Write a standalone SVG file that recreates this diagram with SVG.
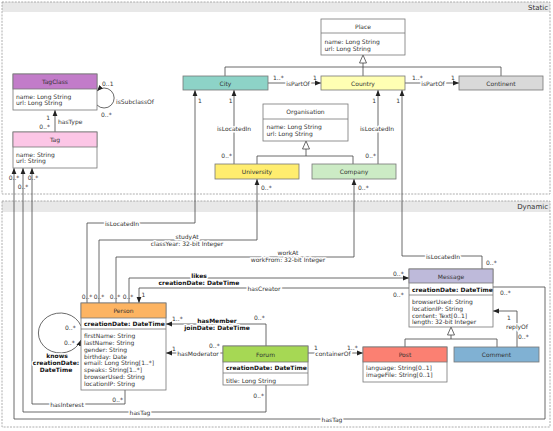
<svg xmlns="http://www.w3.org/2000/svg" width="553" height="431" viewBox="0 0 553 431">
<style>
.t{font-family:"DejaVu Sans","Liberation Sans",sans-serif;font-size:6px;fill:#333;dominant-baseline:central}
.c{text-anchor:middle}
.e{text-anchor:end}
.b{font-weight:bold;fill:#111}
.h{paint-order:stroke;stroke:#fff;stroke-width:3px;stroke-linejoin:round}
.box{fill:#fff;stroke:#777;stroke-width:0.8}
.sep{stroke:#777;stroke-width:0.8}
.ln{fill:none;stroke:#444;stroke-width:0.8}
.a{marker-end:url(#arr)}
.gen{fill:#fff;stroke:#444;stroke-width:0.8}
.reg{fill:none;stroke:#999;stroke-width:0.8;stroke-dasharray:2 1.2}
.band{fill:#e8e8e8}
.rt{font-family:"DejaVu Sans","Liberation Sans",sans-serif;font-size:7px;fill:#333;text-anchor:end;dominant-baseline:central}
</style>
<defs>
<marker id="arr" viewBox="0 0 6 6" refX="6" refY="3" markerWidth="6" markerHeight="6" markerUnits="userSpaceOnUse" orient="auto">
<path d="M0,0.6 L6,3 L0,5.4 z" fill="#222"/>
</marker>
</defs>

<g id="regions">
<rect class="band" x="2" y="2" width="548" height="10"/>
<rect class="reg" x="2" y="2" width="548" height="192"/>
<text class="rt" x="548" y="7.5">Static</text>
<rect class="band" x="2" y="201" width="548" height="11"/>
<rect class="reg" x="2" y="201" width="548" height="226"/>
<text class="rt" x="548" y="206.5">Dynamic</text>
</g>

<g id="connectors">
<!-- generalizations -->
<path class="ln" d="M225,76 V67 H501 V76 M363,67 V76 M363,67 V63"/>
<polygon class="gen" points="363,55 359.5,63 366.5,63"/>
<path class="ln" d="M257,164 V156 H353 V164 M306,156 V149"/>
<polygon class="gen" points="306,141 302.5,149 309.5,149"/>
<path class="ln" d="M405,347 V339 H497 V347 M451,339 V335"/>
<polygon class="gen" points="451,327 447.5,335 454.5,335"/>
<!-- isPartOf -->
<path class="ln a" d="M268,83 H321"/>
<text class="t c h" x="298" y="83">isPartOf</text>
<text class="t" x="273" y="77.5">1..*</text>
<text class="t" x="313" y="77.5">1</text>
<path class="ln a" d="M405,83 H459"/>
<text class="t c h" x="433" y="83">isPartOf</text>
<text class="t" x="412" y="77.5">1..*</text>
<text class="t" x="451" y="77.5">1</text>
<!-- isLocatedIn static -->
<path class="ln a" d="M234,164 V90"/>
<text class="t c h" x="234" y="128">isLocatedIn</text>
<text class="t e" x="232.5" y="100">1</text>
<text class="t e" x="232" y="155">0..*</text>
<path class="ln a" d="M378,164 V90"/>
<text class="t c h" x="377" y="128">isLocatedIn</text>
<text class="t e" x="376" y="100">1</text>
<text class="t e" x="376" y="155">0..*</text>
<!-- hasType -->
<path class="ln a" d="M55,132 V110"/>
<text class="t" x="58" y="121">hasType</text>
<text class="t e" x="50" y="117">1</text>
<text class="t e" x="50" y="126">0..*</text>
<!-- isSubclassOf -->
<path class="ln a" d="M97,105 A10,10 0 1 0 97,91"/>
<text class="t" x="102" y="83">0..1</text>
<text class="t" x="116" y="101">isSubclassOf</text>
<text class="t" x="101" y="114">0..*</text>
<!-- isLocatedIn Person->City -->
<path class="ln a" d="M87,303 V223 H195 V90"/>
<text class="t c h" x="122" y="223">isLocatedIn</text>
<text class="t" x="198" y="100">1</text>
<!-- isLocatedIn Message->Country -->
<path class="ln a" d="M482,269 V256 H402 V90"/>
<text class="t c h" x="443" y="256">isLocatedIn</text>
<text class="t e" x="400" y="100">1</text>
<text class="t" x="486" y="262">0..*</text>
<!-- studyAt -->
<path class="ln a" d="M99,303 V240 H257 V179"/>
<text class="t c h" x="187" y="236.5">studyAt</text>
<text class="t c h" x="187" y="243">classYear: 32-bit Integer</text>
<text class="t" x="261" y="187">0..*</text>
<!-- workAt -->
<path class="ln a" d="M116,303 V257 H354 V179"/>
<text class="t c h" x="288" y="252.5">workAt</text>
<text class="t c h" x="288" y="259">workFrom: 32-bit Integer</text>
<text class="t" x="358" y="187">0..*</text>
<!-- likes -->
<path class="ln a" d="M129,303 V278 H409"/>
<text class="t c b h" x="199" y="275">likes</text>
<text class="t c b h" x="199" y="282">creationDate: DateTime</text>
<text class="t" x="393" y="273">0..*</text>
<!-- hasCreator -->
<path class="ln a" d="M409,288 H139 V303"/>
<text class="t c h" x="264" y="288">hasCreator</text>
<text class="t" x="141.5" y="294">1</text>
<text class="t" x="393" y="294">0..*</text>
<!-- Person top multiplicities -->
<text class="t c" x="87" y="296">0..*</text>
<text class="t c" x="99" y="296">0..*</text>
<text class="t c" x="115" y="296">0..*</text>
<text class="t c" x="128" y="296">0..*</text>
<!-- Tag bottom lines -->
<path class="ln a" d="M125,390 V404 H32 V168"/>
<text class="t c h" x="67" y="404">hasInterest</text>
<text class="t e" x="123" y="399">0..*</text>
<path class="ln a" d="M266,385 V412 H23 V168"/>
<text class="t c h" x="140" y="412">hasTag</text>
<text class="t e" x="264" y="395">0..*</text>
<path class="ln a" d="M493,287 H545 V419 H14 V168"/>
<text class="t c h" x="332" y="419">hasTag</text>
<text class="t" x="500" y="292">0..*</text>
<text class="t c" x="14" y="177">0..*</text>
<text class="t c" x="23" y="186">0..*</text>
<text class="t c" x="33" y="177">0..*</text>
<!-- knows -->
<path class="ln a" d="M81,326 A22,20 0 1 0 81,340"/>
<text class="t" x="65" y="327">0..*</text>
<text class="t" x="64" y="342">0..*</text>
<text class="t c b h" x="57" y="355">knows</text>
<text class="t c b h" x="56" y="362">creationDate:</text>
<text class="t c b h" x="56" y="369">DateTime</text>
<!-- hasMember -->
<path class="ln a" d="M266,346 V324 H166"/>
<text class="t c b h" x="217" y="320.5">hasMember</text>
<text class="t c b h" x="217" y="327">joinDate: DateTime</text>
<text class="t" x="172" y="318">1..*</text>
<text class="t" x="254" y="317">0..*</text>
<!-- hasModerator -->
<path class="ln a" d="M223,353 H166"/>
<text class="t c h" x="198" y="353.5">hasModerator</text>
<text class="t" x="172" y="348.5">1</text>
<text class="t" x="209" y="345.5">0..*</text>
<!-- containerOf -->
<path class="ln a" d="M308,353 H363"/>
<text class="t c h" x="333" y="353">containerOf</text>
<text class="t" x="314" y="347">1</text>
<text class="t" x="347" y="347">1..*</text>
<!-- replyOf -->
<path class="ln a" d="M517,347 V311 H493"/>
<text class="t c h" x="517" y="326">replyOf</text>
<text class="t" x="507" y="317">1</text>
<text class="t" x="518" y="336">0..*</text>
</g>

<g id="place">
<rect class="box" x="321" y="19" width="84" height="36"/>
<line class="sep" x1="321" y1="33" x2="405" y2="33"/>
<text class="t c" x="363" y="26.5">Place</text>
<text class="t" x="324.5" y="41">name: Long String</text>
<text class="t" x="324.5" y="48">url: Long String</text>
</g>

<g id="tagclass">
<rect class="box" x="13" y="74" width="84" height="36"/>
<rect x="13" y="74" width="84" height="15" fill="#c27cc9" stroke="#777" stroke-width="0.8"/>
<text class="t c" x="55" y="81.5">TagClass</text>
<text class="t" x="16" y="96">name: Long String</text>
<text class="t" x="16" y="102.5">url: Long String</text>
</g>

<g id="tag">
<rect class="box" x="13" y="132" width="84" height="36"/>
<rect x="13" y="132" width="84" height="15" fill="#fcc6e6" stroke="#777" stroke-width="0.8"/>
<text class="t c" x="55" y="139.5">Tag</text>
<text class="t" x="16" y="154">name: String</text>
<text class="t" x="16" y="160.5">url: String</text>
</g>

<g id="city">
<rect x="183" y="76" width="85" height="14" fill="#8dd3c7" stroke="#777" stroke-width="0.8"/>
<text class="t c" x="225.5" y="83">City</text>
</g>

<g id="country">
<rect x="321" y="76" width="84" height="14" fill="#ffffb3" stroke="#777" stroke-width="0.8"/>
<text class="t c" x="363" y="83">Country</text>
</g>

<g id="continent">
<rect x="459" y="76" width="84" height="14" fill="#d9d9d9" stroke="#777" stroke-width="0.8"/>
<text class="t c" x="501" y="83">Continent</text>
</g>

<g id="organisation">
<rect class="box" x="263" y="104" width="85" height="37"/>
<line class="sep" x1="263" y1="119" x2="348" y2="119"/>
<text class="t c" x="305.5" y="111.5">Organisation</text>
<text class="t" x="266.5" y="126">name: Long String</text>
<text class="t" x="266.5" y="133">url: Long String</text>
</g>

<g id="university">
<rect x="215" y="164" width="84" height="15" fill="#ffed6f" stroke="#777" stroke-width="0.8"/>
<text class="t c" x="257" y="171.5">University</text>
</g>

<g id="company">
<rect x="312" y="164" width="84" height="15" fill="#ccebc5" stroke="#777" stroke-width="0.8"/>
<text class="t c" x="354" y="171.5">Company</text>
</g>

<g id="person">
<rect class="box" x="81" y="303" width="85" height="87"/>
<rect x="81" y="303" width="85" height="15" fill="#fdb462" stroke="#777" stroke-width="0.8"/>
<line class="sep" x1="81" y1="329" x2="166" y2="329"/>
<text class="t c" x="123.5" y="310.5">Person</text>
<text class="t b" x="84" y="323.5">creationDate: DateTime</text>
<text class="t" x="84" y="335.7">firstName: String</text>
<text class="t" x="84" y="342.5">lastName: String</text>
<text class="t" x="84" y="349.3">gender: String</text>
<text class="t" x="84" y="356.1">birthday: Date</text>
<text class="t" x="84" y="362.9">email: Long String[1..*]</text>
<text class="t" x="84" y="369.7">speaks: String[1..*]</text>
<text class="t" x="84" y="376.5">browserUsed: String</text>
<text class="t" x="84" y="383.3">locationIP: String</text>
</g>

<g id="message">
<rect class="box" x="409" y="269" width="84" height="58"/>
<rect x="409" y="269" width="84" height="14" fill="#bebada" stroke="#777" stroke-width="0.8"/>
<line class="sep" x1="409" y1="295" x2="493" y2="295"/>
<text class="t c" x="451" y="276">Message</text>
<text class="t b" x="412" y="289">creationDate: DateTime</text>
<text class="t" x="412" y="301.7">browserUsed: String</text>
<text class="t" x="412" y="308.4">locationIP: String</text>
<text class="t" x="412" y="315.1">content: Text[0..1]</text>
<text class="t" x="412" y="321.8">length: 32-bit Integer</text>
</g>

<g id="forum">
<rect class="box" x="223" y="346" width="85" height="39"/>
<rect x="223" y="346" width="85" height="16" fill="#a6d854" stroke="#777" stroke-width="0.8"/>
<line class="sep" x1="223" y1="373" x2="308" y2="373"/>
<text class="t c" x="265.5" y="354">Forum</text>
<text class="t b" x="226" y="367.5">creationDate: DateTime</text>
<text class="t" x="226" y="380">title: Long String</text>
</g>

<g id="post">
<rect class="box" x="363" y="347" width="84" height="35"/>
<rect x="363" y="347" width="84" height="15" fill="#fb8072" stroke="#777" stroke-width="0.8"/>
<text class="t c" x="405" y="354.5">Post</text>
<text class="t" x="366" y="367.7">language: String[0..1]</text>
<text class="t" x="366" y="374.4">imageFile: String[0..1]</text>
</g>

<g id="comment">
<rect x="454" y="347" width="85" height="15" fill="#80b1d3" stroke="#777" stroke-width="0.8"/>
<text class="t c" x="496.5" y="354.5">Comment</text>
</g>
</svg>
